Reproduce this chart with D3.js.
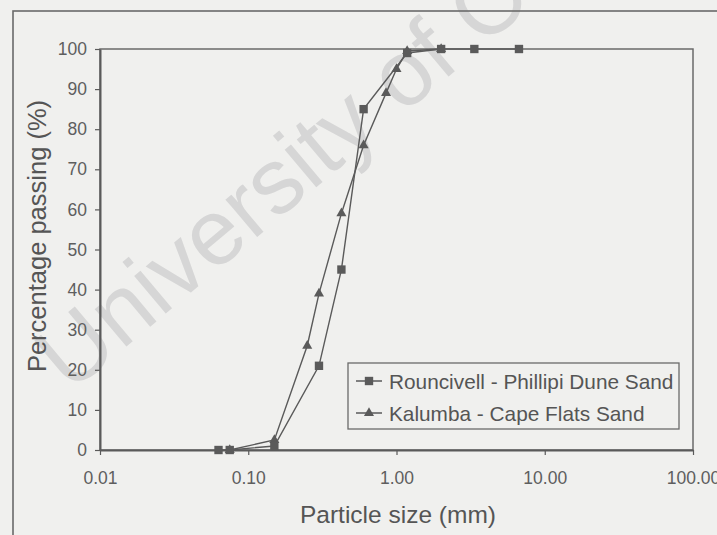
<!DOCTYPE html>
<html>
<head>
<meta charset="utf-8">
<script src="https://cdn.jsdelivr.net/npm/d3@7"></script>
<style>
    body { margin: 0; background: #f0f0ee; }
    svg { display: block; font-family: "Liberation Sans", Arial, sans-serif; }
</style>
</head>
<body>
<svg id="chart" width="717" height="535"></svg>
<script>
// sieve sizes (mm) and percentage passing
const rouncivellSize = [0.063, 0.075, 0.15, 0.3, 0.425, 0.6, 1.18, 2.0, 3.35, 6.7];
const rouncivellPass = [0, 0, 1, 21, 45, 85, 99, 100, 100, 100];
const kalumbaSize = [0.075, 0.15, 0.25, 0.3, 0.425, 0.6, 0.85, 1.0, 1.18, 2.0];
const kalumbaPass = [0, 2.5, 26, 39, 59, 76, 89, 95, 99.5, 100];

const xTicks = [0.01, 0.1, 1, 10, 100];
const yTicks = [0, 10, 20, 30, 40, 50, 60, 70, 80, 90, 100];
const seriesNames = ["Rouncivell - Phillipi Dune Sand", "Kalumba - Cape Flats Sand"];

const ink = "#5a5a5a";
const svg = d3.select("#chart");
const margin = {left: 100, top: 49, right: 24, bottom: 85};
const width = 717 - margin.left - margin.right;
const height = 535 - margin.top - margin.bottom;

// watermark
svg.append("text")
        .attr("transform", "translate(70,394) rotate(-40)")
        .attr("font-size", 93)
        .attr("fill", "#d6d6d6")
        .text("University of Cape Town");

// outer frame (runs off the picture at right and bottom)
svg.append("rect")
        .attr("x", 13).attr("y", 11)
        .attr("width", 720).attr("height", 540)
        .attr("fill", "none")
        .attr("stroke", "#6a6a6a")
        .attr("stroke-width", 1.6);

const g = svg.append("g").attr("transform", `translate(${margin.left},${margin.top})`);

const x = d3.scaleLog().domain([0.01, 100]).range([0, width]);
const y = d3.scaleLinear().domain([0, 100]).range([height, 0]);

g.append("rect")
        .attr("width", width).attr("height", height)
        .attr("fill", "none")
        .attr("stroke", "#6a6a6a")
        .attr("stroke-width", 1.5);

const xAxis = g.append("g")
        .attr("transform", `translate(0,${height})`)
        .call(d3.axisBottom(x).tickValues(xTicks).tickFormat(d3.format(".2f")).tickSize(5).tickSizeOuter(0));
const yAxis = g.append("g")
        .call(d3.axisLeft(y).tickValues(yTicks).tickSize(5).tickSizeOuter(0));

[xAxis, yAxis].forEach(a => {
    a.select(".domain").attr("stroke", ink).attr("stroke-width", 2);
    a.selectAll(".tick line").attr("stroke", ink).attr("stroke-width", 1.2);
    a.selectAll("text")
            .attr("font-size", 17.5)
            .attr("font-family", "Liberation Sans, Arial, sans-serif")
            .attr("fill", "#5e5e5e");
});
xAxis.selectAll("text").attr("y", 22);
yAxis.selectAll("text").attr("x", -13);

svg.append("text")
        .attr("x", 398).attr("y", 523)
        .attr("text-anchor", "middle")
        .attr("font-size", 24.5)
        .attr("fill", "#555")
        .text("Particle size (mm)");

svg.append("text")
        .attr("transform", "translate(46,236) rotate(-90)")
        .attr("text-anchor", "middle")
        .attr("font-size", 25.5)
        .attr("fill", "#555")
        .text("Percentage passing (%)");

const line = d3.line().x(d => x(d[0])).y(d => y(d[1]));
const square = d3.symbol().type(d3.symbolSquare).size(70);
const triangle = d3.symbol().type(d3.symbolTriangle).size(44);

function drawSeries(sizes, pass, symbol) {
    const pts = sizes.map((s, i) => [s, pass[i]]);
    g.append("path")
            .datum(pts)
            .attr("fill", "none")
            .attr("stroke", ink)
            .attr("stroke-width", 1.4)
            .attr("d", line);
    g.selectAll(null)
            .data(pts)
            .enter().append("path")
            .attr("transform", d => `translate(${x(d[0])},${y(d[1])})`)
            .attr("d", symbol)
            .attr("fill", ink);
}

drawSeries(kalumbaSize, kalumbaPass, triangle);
drawSeries(rouncivellSize, rouncivellPass, square);

// legend
const legend = svg.append("g").attr("transform", "translate(348,363)");
legend.append("rect")
        .attr("width", 331).attr("height", 66)
        .attr("fill", "#f0f0ee")
        .attr("stroke", "#6a6a6a")
        .attr("stroke-width", 1.3);
const symbols = [square, triangle];
seriesNames.forEach((name, i) => {
    const row = legend.append("g").attr("transform", `translate(0,${18 + i * 32})`);
    row.append("line")
            .attr("x1", 8).attr("x2", 34)
            .attr("stroke", ink).attr("stroke-width", 1.5);
    row.append("path")
            .attr("transform", "translate(21,0)")
            .attr("d", symbols[i])
            .attr("fill", ink);
    row.append("text")
            .attr("x", 41).attr("dy", "0.36em")
            .attr("font-size", 20.8)
            .attr("fill", "#555")
            .text(name);
});
</script>
</body>
</html>
